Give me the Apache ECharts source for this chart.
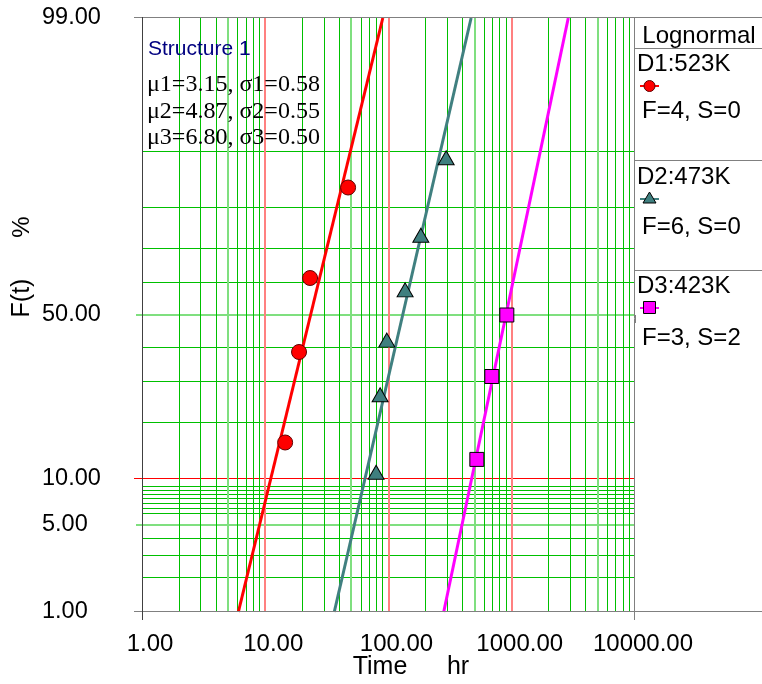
<!DOCTYPE html>
<html>
<head>
<meta charset="utf-8">
<script src="https://cdn.jsdelivr.net/npm/echarts@6/dist/echarts.min.js"></script>
<style>
html, body { margin: 0; padding: 0; background: #fff; }
#main { width: 762px; height: 684px; }
</style>
</head>
<body>
<div id="main"></div>
<script>
// points (time in hr, F in %)
var d1Time = [14.5, 18.8, 23.1, 47.0]
var d1Pct = [15.9, 38.6, 61.4, 84.1]
var d2Time = [79.3, 85.5, 96.9, 136.4, 182.9, 293.6]
var d2Pct = [10.9, 26.6, 42.2, 57.8, 73.4, 89.1]
var d3Time = [521, 689, 912]
var d3Pct = [12.9, 31.5, 50.0]

// fitted lines, read where they cross 1% and 99%
var fitPct = [1, 99]
var d1FitTime = [6.05, 89.9]
var d2FitTime = [36.3, 468]
var d3FitTime = [280.5, 2874]

var yTickPct = [1, 5, 10, 50, 99]
var yTickText = ['1.00', '5.00', '10.00', '50.00', '99.00']
var yGridDark = [2, 3, 4, 6, 6.5, 7, 7.5, 8, 8.5, 9, 20, 30, 40, 60, 70, 80, 90]
var yGridLight = [5, 50]
var yGridRed = [10]
var xDecades = [1, 10, 100, 1000]
var xRedLines = [10, 100, 1000]

var SANS = '"Liberation Sans", Arial, sans-serif'
var SERIF = '"Liberation Serif", "Times New Roman", serif'

var GL = 142, GT = 18, GW = 493, GH = 594

// inverse normal cdf (Acklam), used as the probability scale
function probit(p) {
    var a = [-39.69683028665376, 220.9460984245205, -275.9285104469687, 138.3577518672690, -30.66479806614716, 2.506628277459239]
    var b = [-54.47609879822406, 161.5858368580409, -155.6989798598866, 66.80131188771972, -13.28068155288572]
    var c = [-0.007784894002430293, -0.3223964580411365, -2.400758277161838, -2.549732539343734, 4.374664141464968, 2.938163982698783]
    var d = [0.007784695709041462, 0.3224671290700398, 2.445134137142996, 3.754408661907416]
    var pl = 0.02425, q, r
    if (p < pl) {
        q = Math.sqrt(-2 * Math.log(p))
        return (((((c[0] * q + c[1]) * q + c[2]) * q + c[3]) * q + c[4]) * q + c[5]) / ((((d[0] * q + d[1]) * q + d[2]) * q + d[3]) * q + 1)
    }
    if (p > 1 - pl) {
        q = Math.sqrt(-2 * Math.log(1 - p))
        return -(((((c[0] * q + c[1]) * q + c[2]) * q + c[3]) * q + c[4]) * q + c[5]) / ((((d[0] * q + d[1]) * q + d[2]) * q + d[3]) * q + 1)
    }
    q = p - 0.5
    r = q * q
    return (((((a[0] * r + a[1]) * r + a[2]) * r + a[3]) * r + a[4]) * r + a[5]) * q / (((((b[0] * r + b[1]) * r + b[2]) * r + b[3]) * r + b[4]) * r + 1)
}

var zMin = probit(0.01)
var zMax = probit(0.99)

function pts(times, pcts) {
    return times.map(function (t, i) { return [t, probit(pcts[i] / 100)] })
}

// nudge grid lines onto whole pixels so thin lines stay crisp
function snapZ(z, w) {
    var y = GT + (zMax - z) / (zMax - zMin) * GH
    y = w % 2 ? Math.floor(y) + 0.5 : Math.round(y)
    return zMax - (y - GT) / GH * (zMax - zMin)
}
function snapX(v, w) {
    var x = GL + Math.log(v) / Math.LN10 / 4 * GW
    x = w % 2 ? Math.floor(x) + 0.5 : Math.round(x)
    return Math.pow(10, (x - GL) / GW * 4)
}
function gridZ(pcts, w) {
    return pcts.map(function (p) { return snapZ(probit(p / 100), w) })
}

var yTickZ = yTickPct.map(function (p) { return probit(p / 100) })

var DARK = '#00c000', LIGHT = '#7fdf7f'

// vertical grid lines as a lines series on the same axes
var gridLines = []
for (var i = 0; i < xDecades.length; i++) {
    for (var k = 2; k <= 9; k++) {
        var w = k === 5 ? 2 : 1
        var xv = snapX(k * xDecades[i], w)
        gridLines.push({ coords: [[xv, zMin], [xv, zMax]], lineStyle: { color: k === 5 ? LIGHT : DARK, width: w, opacity: 1 } })
    }
}
xRedLines.forEach(function (v) {
    var xv = snapX(v, 2)
    gridLines.push({ coords: [[xv, zMin], [xv, zMax]], lineStyle: { color: '#ff8080', width: 2, opacity: 1 } })
})

// horizontal grid lines come from extra y axes (ticks + split lines)
function gridAxis(values, color, width, tickLen) {
    return {
        type: 'value', min: zMin, max: zMax, position: 'left',
        axisLine: { show: false }, axisLabel: { show: false },
        axisTick: { show: true, length: tickLen, customValues: values, lineStyle: { color: tickLen ? color : 'rgba(0,0,0,0)', width: width } },
        splitLine: { show: true, lineStyle: { color: color, width: width, type: 'solid' } }
    }
}

function hline(x1, x2, y, color) {
    return { type: 'line', silent: true, z: 10, shape: { x1: x1, y1: y + 0.5, x2: x2, y2: y + 0.5 }, style: { stroke: color || '#808080', lineWidth: 1 } }
}
function vline(x, y1, y2, color) {
    return { type: 'line', silent: true, z: 10, shape: { x1: x + 0.5, y1: y1, x2: x + 0.5, y2: y2 }, style: { stroke: color || '#808080', lineWidth: 1 } }
}
function txt(s, x, y, font, fill, align) {
    return { type: 'text', silent: true, z: 11, style: { text: s, x: x, y: y, font: font, fill: fill || '#000', textAlign: align || 'left', textVerticalAlign: 'middle' } }
}

var myChart = echarts.init(document.getElementById('main'))

myChart.setOption({
    animation: false,
    backgroundColor: '#fff',
    grid: { left: GL, top: GT, width: GW, height: GH, outerBoundsMode: 'none', containLabel: false },
    xAxis: {
        type: 'log', logBase: 10, min: 1, max: 10000,
        axisLine: { show: false },
        axisTick: { show: true, length: 8, lineStyle: { color: '#808080' } },
        minorTick: { show: false },
        splitLine: { show: false },
        axisLabel: {
            margin: 20, fontSize: 24, fontFamily: SANS, color: '#000', padding: [0, 0, 0, 16],
            formatter: function (v) { return Number(v).toFixed(2) }
        }
    },
    yAxis: [{
        type: 'value', min: zMin, max: zMax,
        axisLine: { show: false },
        axisTick: { show: false },
        splitLine: { show: false },
        axisLabel: {
            customValues: yTickZ, align: 'left', margin: 100, fontSize: 23.5, fontFamily: SANS, color: '#000',
            formatter: function (v) {
                for (var j = 0; j < yTickZ.length; j++) {
                    if (Math.abs(yTickZ[j] - v) < 1e-6) return yTickText[j]
                }
                return ''
            }
        }
    },
        gridAxis(gridZ(yGridDark, 1), DARK, 1, 0),
        gridAxis(gridZ(yGridLight, 2), LIGHT, 2, 6),
        gridAxis(gridZ(yGridRed, 1), '#ff0000', 1, 8)
    ],
    series: [{
        name: 'grid', type: 'lines', coordinateSystem: 'cartesian2d', z: 1, silent: true,
        polyline: false, large: false, effect: { show: false },
        lineStyle: { opacity: 1 },
        data: gridLines
    }, {
        name: 'D1 fit', type: 'line', z: 3, symbol: 'none', data: pts(d1FitTime, fitPct),
        lineStyle: { color: '#ff0000', width: 3 }
    }, {
        name: 'D2 fit', type: 'line', z: 3, symbol: 'none', data: pts(d2FitTime, fitPct),
        lineStyle: { color: '#408080', width: 3 }
    }, {
        name: 'D3 fit', type: 'line', z: 3, symbol: 'none', data: pts(d3FitTime, fitPct),
        lineStyle: { color: '#ff00ff', width: 3 }
    }, {
        name: 'D1:523K', type: 'scatter', z: 4, symbol: 'circle', symbolSize: 15, data: pts(d1Time, d1Pct),
        itemStyle: { color: '#ff0000', borderColor: '#600000', borderWidth: 1, opacity: 1 }
    }, {
        name: 'D2:473K', type: 'scatter', z: 4, symbol: 'triangle', symbolSize: [16, 14], data: pts(d2Time, d2Pct),
        itemStyle: { color: '#3f7f7f', borderColor: '#000', borderWidth: 1, opacity: 1 }
    }, {
        name: 'D3:423K', type: 'scatter', z: 4, symbol: 'rect', symbolSize: 14, data: pts(d3Time, d3Pct),
        itemStyle: { color: '#ff00ff', borderColor: '#000', borderWidth: 1, opacity: 1 }
    }],
    graphic: [
        // frame
        hline(134, 762, 17),
        hline(134, 762, 611),
        vline(142, 17, 620, '#404040'),
        vline(634, 17, 620),
        hline(635, 762, 48),
        hline(635, 762, 160),
        hline(635, 762, 270),
        // axis titles
        txt('Time', 380, 667, '25px ' + SANS, '#000', 'center'),
        txt('hr', 458, 667, '25px ' + SANS, '#000', 'center'),
        { type: 'text', silent: true, x: 22, y: 298, rotation: Math.PI / 2, style: { text: 'F(t)', font: '25px ' + SANS, fill: '#000', textAlign: 'center', textVerticalAlign: 'middle' } },
        { type: 'text', silent: true, x: 22, y: 227, rotation: Math.PI / 2, style: { text: '%', font: '24px ' + SANS, fill: '#000', textAlign: 'center', textVerticalAlign: 'middle' } },
        // notes
        txt('Structure 1', 148, 49, '21px ' + SANS, '#000080'),
        txt('\u03bc1=3.15, \u03c31=0.58', 147, 85, '24px ' + SERIF),
        txt('\u03bc2=4.87, \u03c32=0.55', 147, 112, '24px ' + SERIF),
        txt('\u03bc3=6.80, \u03c33=0.50', 147, 138, '24px ' + SERIF),
        // legend panel
        txt('Lognormal', 699, 36, '24px ' + SANS, '#000', 'center'),
        txt('D1:523K', 637, 64, '24px ' + SANS),
        { type: 'line', silent: true, z: 11, shape: { x1: 640, y1: 86, x2: 659, y2: 86 }, style: { stroke: '#ff0000', lineWidth: 2 } },
        { type: 'circle', silent: true, z: 12, shape: { cx: 649.5, cy: 86, r: 5.5 }, style: { fill: '#ff0000', stroke: '#600000', lineWidth: 1 } },
        txt('F=4, S=0', 642, 111, '24px ' + SANS),
        txt('D2:473K', 637, 177, '24px ' + SANS),
        { type: 'line', silent: true, z: 11, shape: { x1: 640, y1: 199, x2: 659, y2: 199 }, style: { stroke: '#408080', lineWidth: 2 } },
        { type: 'polygon', silent: true, z: 12, shape: { points: [[649.5, 192], [656, 203], [643, 203]] }, style: { fill: '#3f7f7f', stroke: '#000', lineWidth: 1 } },
        txt('F=6, S=0', 642, 227, '24px ' + SANS),
        txt('D3:423K', 637, 286, '24px ' + SANS),
        { type: 'line', silent: true, z: 11, shape: { x1: 640, y1: 308, x2: 659, y2: 308 }, style: { stroke: '#ff00ff', lineWidth: 2 } },
        { type: 'rect', silent: true, z: 12, shape: { x: 643.5, y: 301.5, width: 12, height: 12 }, style: { fill: '#ff00ff', stroke: '#000', lineWidth: 1 } },
        txt('F=3, S=2', 642, 338, '24px ' + SANS)
    ]
})
</script>
</body>
</html>
